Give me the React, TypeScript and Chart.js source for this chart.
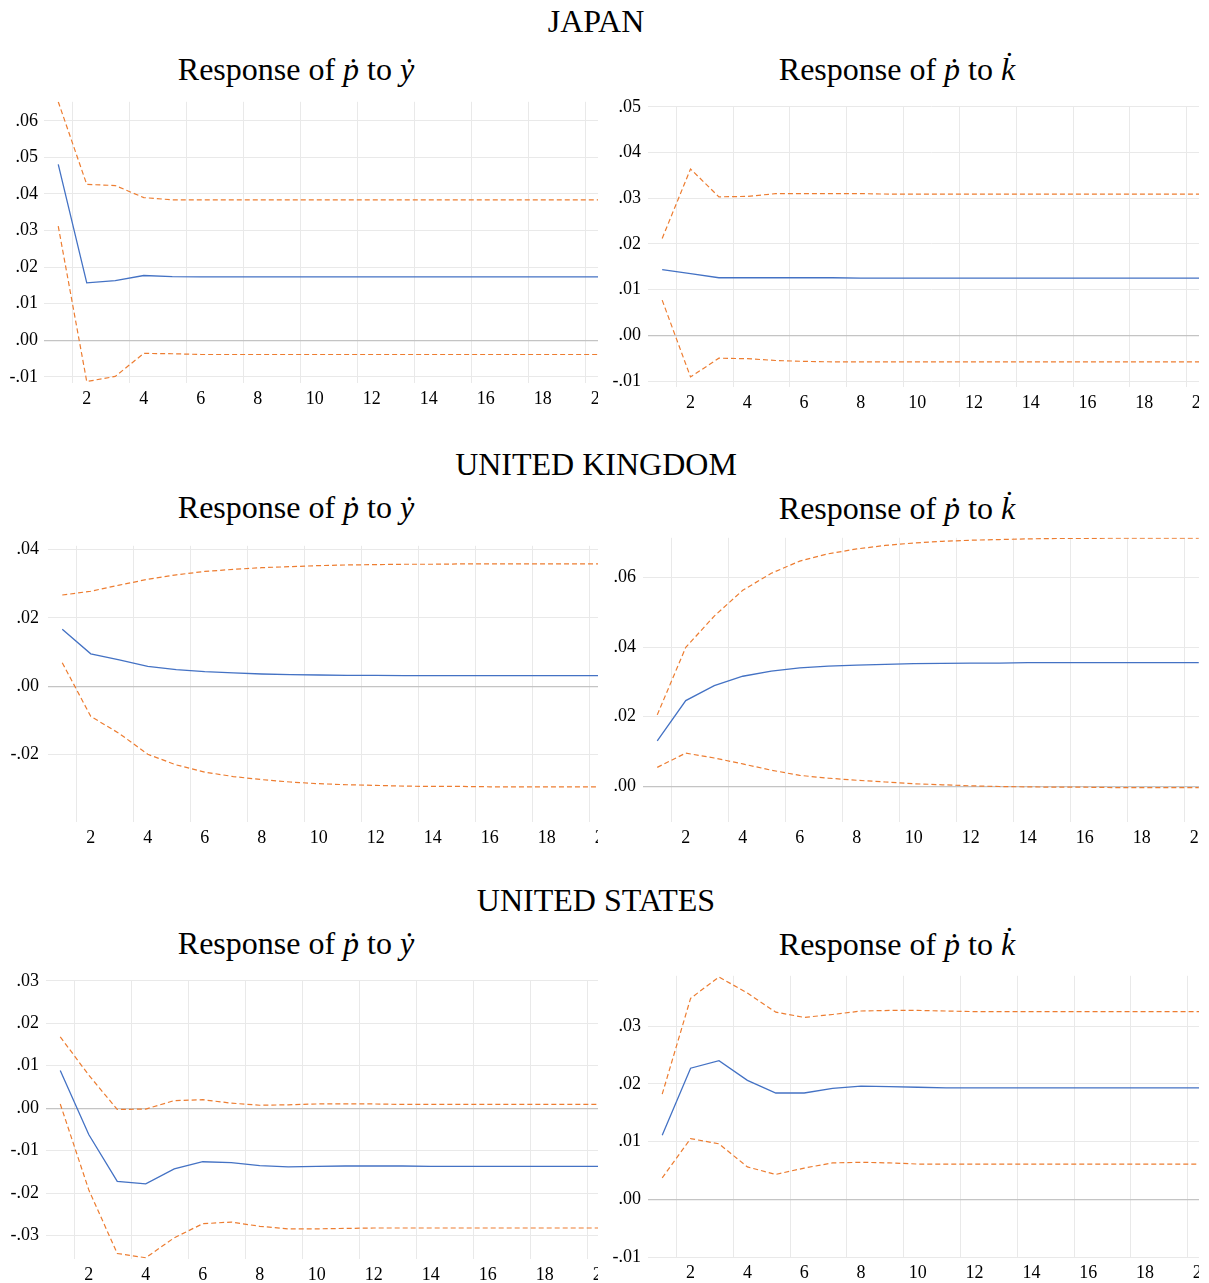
import React, { useEffect, useRef } from 'react';
import { Chart, registerables } from 'chart.js';

Chart.register(...registerables);

// ---------- data ----------
const PERIODS: string[] = ['1', '2', '3', '4', '5', '6', '7', '8', '9', '10', '11', '12', '13', '14', '15', '16', '17', '18', '19', '20'];

// Japan: response of p-dot to y-dot
const JP_Y_RESP = [0.0481, 0.0157, 0.0163, 0.0177, 0.0174, 0.0173, 0.0173, 0.0173, 0.0173, 0.0173, 0.0173, 0.0173, 0.0173, 0.0173, 0.0173, 0.0173, 0.0173, 0.0173, 0.0173, 0.0173];
const JP_Y_UPPER = [0.0652, 0.0426, 0.0423, 0.039, 0.0384, 0.0384, 0.0384, 0.0384, 0.0384, 0.0384, 0.0384, 0.0384, 0.0384, 0.0384, 0.0384, 0.0384, 0.0384, 0.0384, 0.0384, 0.0384];
const JP_Y_LOWER = [0.0312, -0.0113, -0.0099, -0.0036, -0.0037, -0.0039, -0.0039, -0.0039, -0.0039, -0.0039, -0.0039, -0.0039, -0.0039, -0.0039, -0.0039, -0.0039, -0.0039, -0.0039, -0.0039, -0.0039];
const JP_Y_TICKS = [-0.01, 0, 0.01, 0.02, 0.03, 0.04, 0.05, 0.06];

// Japan: response of p-dot to k-dot
const JP_K_RESP = [0.0144, 0.0135, 0.0126, 0.0126, 0.0126, 0.0126, 0.0126, 0.0125, 0.0125, 0.0125, 0.0125, 0.0125, 0.0125, 0.0125, 0.0125, 0.0125, 0.0125, 0.0125, 0.0125, 0.0125];
const JP_K_UPPER = [0.0212, 0.0364, 0.0303, 0.0304, 0.031, 0.031, 0.031, 0.031, 0.0309, 0.0309, 0.0309, 0.0309, 0.0309, 0.0309, 0.0309, 0.0309, 0.0309, 0.0309, 0.0309, 0.0309];
const JP_K_LOWER = [0.0077, -0.0091, -0.005, -0.0051, -0.0055, -0.0057, -0.0058, -0.0058, -0.0058, -0.0058, -0.0058, -0.0058, -0.0058, -0.0058, -0.0058, -0.0058, -0.0058, -0.0058, -0.0058, -0.0058];
const JP_K_TICKS = [-0.01, 0, 0.01, 0.02, 0.03, 0.04, 0.05];

// United Kingdom: response of p-dot to y-dot
const UK_Y_RESP = [0.0167, 0.0095, 0.0077, 0.0058, 0.0049, 0.0043, 0.0039, 0.0036, 0.0034, 0.0033, 0.0032, 0.0032, 0.0031, 0.0031, 0.0031, 0.0031, 0.0031, 0.0031, 0.0031, 0.0031];
const UK_Y_UPPER = [0.0267, 0.0278, 0.0296, 0.0313, 0.0326, 0.0336, 0.0342, 0.0347, 0.035, 0.0353, 0.0355, 0.0356, 0.0357, 0.0357, 0.0358, 0.0358, 0.0358, 0.0358, 0.0358, 0.0358];
const UK_Y_LOWER = [0.0069, -0.0088, -0.0138, -0.0199, -0.023, -0.0251, -0.0264, -0.0273, -0.028, -0.0285, -0.0288, -0.029, -0.0292, -0.0293, -0.0293, -0.0294, -0.0294, -0.0294, -0.0294, -0.0294];
const UK_Y_TICKS = [-0.02, 0, 0.02, 0.04];

// United Kingdom: response of p-dot to k-dot
const UK_K_RESP = [0.013, 0.0246, 0.0289, 0.0316, 0.0331, 0.034, 0.0345, 0.0348, 0.035, 0.0352, 0.0353, 0.0354, 0.0354, 0.0355, 0.0355, 0.0355, 0.0355, 0.0355, 0.0355, 0.0355];
const UK_K_UPPER = [0.0205, 0.0399, 0.0489, 0.0563, 0.0612, 0.0647, 0.0668, 0.0682, 0.0692, 0.0699, 0.0704, 0.0707, 0.0709, 0.0711, 0.0712, 0.0712, 0.0713, 0.0713, 0.0713, 0.0713];
const UK_K_LOWER = [0.0054, 0.0095, 0.0081, 0.0064, 0.0046, 0.0031, 0.0023, 0.0017, 0.0012, 0.0007, 0.0004, 0.0001, -0.0001, -0.0002, -0.0003, -0.0003, -0.0004, -0.0004, -0.0004, -0.0004];
const UK_K_TICKS = [0, 0.02, 0.04, 0.06];

// United States: response of p-dot to y-dot
const US_Y_RESP = [0.0089, -0.0062, -0.0172, -0.0178, -0.0143, -0.0126, -0.0128, -0.0135, -0.0138, -0.0137, -0.0136, -0.0136, -0.0136, -0.0137, -0.0137, -0.0137, -0.0137, -0.0137, -0.0137, -0.0137];
const US_Y_UPPER = [0.0168, 0.0078, -0.0003, -0.0002, 0.0018, 0.002, 0.0012, 0.0007, 0.0008, 0.001, 0.001, 0.001, 0.0009, 0.0009, 0.0009, 0.0009, 0.0009, 0.0009, 0.0009, 0.0009];
const US_Y_LOWER = [0.001, -0.0192, -0.0342, -0.0352, -0.0305, -0.0272, -0.0268, -0.0278, -0.0284, -0.0284, -0.0283, -0.0282, -0.0282, -0.0282, -0.0282, -0.0282, -0.0282, -0.0282, -0.0282, -0.0282];
const US_Y_TICKS = [-0.03, -0.02, -0.01, 0, 0.01, 0.02, 0.03];

// United States: response of p-dot to k-dot
const US_K_RESP = [0.0111, 0.0227, 0.024, 0.0206, 0.0184, 0.0184, 0.0192, 0.0196, 0.0195, 0.0194, 0.0193, 0.0193, 0.0193, 0.0193, 0.0193, 0.0193, 0.0193, 0.0193, 0.0193, 0.0193];
const US_K_UPPER = [0.0182, 0.0348, 0.0385, 0.0357, 0.0324, 0.0315, 0.032, 0.0326, 0.0327, 0.0327, 0.0326, 0.0325, 0.0325, 0.0325, 0.0325, 0.0325, 0.0325, 0.0325, 0.0325, 0.0325];
const US_K_LOWER = [0.0037, 0.0105, 0.0096, 0.0056, 0.0043, 0.0054, 0.0063, 0.0064, 0.0063, 0.0061, 0.0061, 0.0061, 0.0061, 0.0061, 0.0061, 0.0061, 0.0061, 0.0061, 0.0061, 0.0061];
const US_K_TICKS = [-0.01, 0, 0.01, 0.02, 0.03];

// ---------- styling ----------
const BLUE = '#4472c4';
const ORANGE = '#ed7d31';
const GRID = '#e9e9e9';
const ZERO = '#c4c4c4';
const FONT = '"Liberation Serif", "Times New Roman", "DejaVu Serif", serif';
const PAD_TOP = 14;
const X_AXIS_H = 30;

type PanelSpec = {
  resp: number[];
  upper: number[];
  lower: number[];
  ticks: number[];
  min: number;
  max: number;
  chartLeft: number;
  chartTop: number;
  plotW: number;
  plotH: number;
  cropRight: number;
  yAxisW: number;
  yPad: number;
};

const PANELS: PanelSpec[] = [
  { resp: JP_Y_RESP, upper: JP_Y_UPPER, lower: JP_Y_LOWER, ticks: JP_Y_TICKS, min: -0.0117, max: 0.0652, chartLeft: 44, chartTop: 99, plotW: 570, plotH: 284, cropRight: 598, yAxisW: 44, yPad: 6 },
  { resp: JP_K_RESP, upper: JP_K_UPPER, lower: JP_K_LOWER, ticks: JP_K_TICKS, min: -0.0113, max: 0.05, chartLeft: 648, chartTop: 103, plotW: 567, plotH: 284, cropRight: 1199, yAxisW: 48, yPad: 7 },
  { resp: UK_Y_RESP, upper: UK_Y_UPPER, lower: UK_Y_LOWER, ticks: UK_Y_TICKS, min: -0.0397, max: 0.0411, chartLeft: 48, chartTop: 540, plotW: 570, plotH: 282, cropRight: 598, yAxisW: 48, yPad: 9 },
  { resp: UK_K_RESP, upper: UK_K_UPPER, lower: UK_K_LOWER, ticks: UK_K_TICKS, min: -0.0103, max: 0.0714, chartLeft: 643, chartTop: 534, plotW: 570, plotH: 288, cropRight: 1199, yAxisW: 43, yPad: 7 },
  { resp: US_Y_RESP, upper: US_Y_UPPER, lower: US_Y_LOWER, ticks: US_Y_TICKS, min: -0.0355, max: 0.03, chartLeft: 46, chartTop: 977, plotW: 570, plotH: 282, cropRight: 598, yAxisW: 46, yPad: 7 },
  { resp: US_K_RESP, upper: US_K_UPPER, lower: US_K_LOWER, ticks: US_K_TICKS, min: -0.01, max: 0.0387, chartLeft: 648, chartTop: 972, plotW: 568, plotH: 285, cropRight: 1199, yAxisW: 48, yPad: 7 },
];

function fmt(v: number): string {
  const s = Number(v).toFixed(2);
  return s.replace(/^(-?)0\./, '$1.');
}

function buildConfig(p: PanelSpec): any {
  const tickFont = { family: FONT, size: 18 };
  return {
    type: 'line',
    data: {
      labels: PERIODS,
      datasets: [
        { data: p.upper, borderColor: ORANGE, borderWidth: 1.2, borderDash: [5, 3], pointRadius: 0, tension: 0, fill: false },
        { data: p.lower, borderColor: ORANGE, borderWidth: 1.2, borderDash: [5, 3], pointRadius: 0, tension: 0, fill: false },
        { data: p.resp, borderColor: BLUE, borderWidth: 1.3, pointRadius: 0, tension: 0, fill: false },
      ],
    },
    options: {
      animation: false,
      responsive: false,
      maintainAspectRatio: false,
      events: [],
      layout: { padding: { top: PAD_TOP, left: 0, right: 0, bottom: 0 } },
      plugins: { legend: { display: false }, tooltip: { enabled: false }, title: { display: false } },
      scales: {
        x: {
          type: 'category',
          offset: true,
          border: { display: false },
          grid: {
            offset: true,
            drawTicks: false,
            lineWidth: 1,
            color: (ctx: any) => (typeof ctx.index === 'number' && ctx.index % 2 === 1 ? GRID : 'rgba(0,0,0,0)'),
          },
          ticks: {
            autoSkip: false,
            maxRotation: 0,
            minRotation: 0,
            padding: 5,
            color: '#000',
            font: tickFont,
            callback: (_v: any, i: number) => (i % 2 === 1 ? PERIODS[i] : ''),
          },
          afterFit: (s: any) => {
            s.height = X_AXIS_H;
          },
        },
        y: {
          min: p.min,
          max: p.max,
          border: { display: false },
          grid: {
            drawTicks: false,
            lineWidth: (ctx: any) => (ctx.tick && ctx.tick.value === 0 ? 1.3 : 1),
            color: (ctx: any) => (ctx.tick && ctx.tick.value === 0 ? ZERO : GRID),
          },
          ticks: {
            padding: p.yPad,
            color: '#000',
            font: tickFont,
            callback: (v: any) => fmt(Number(v)),
          },
          afterBuildTicks: (s: any) => {
            s.ticks = p.ticks.map((v) => ({ value: v }));
          },
          afterFit: (s: any) => {
            s.width = p.yAxisW;
          },
        },
      },
    },
  };
}

function Panel({ p }: { p: PanelSpec }) {
  const ref = useRef<HTMLCanvasElement | null>(null);
  useEffect(() => {
    if (!ref.current) return;
    const chart = new Chart(ref.current, buildConfig(p));
    return () => chart.destroy();
  }, [p]);
  const canvasLeft = p.chartLeft - p.yAxisW;
  const canvasTop = p.chartTop - PAD_TOP;
  const w = p.yAxisW + p.plotW;
  const h = PAD_TOP + p.plotH + X_AXIS_H;
  return (
    <div style={{ position: 'absolute', left: canvasLeft, top: canvasTop, width: p.cropRight - canvasLeft, height: h, overflow: 'hidden' }}>
      <canvas ref={ref} width={w} height={h} style={{ width: w, height: h, display: 'block' }} />
    </div>
  );
}

const SECTION_TITLES = ['JAPAN', 'UNITED KINGDOM', 'UNITED STATES'];
const SECTION_Y = [22, 465, 901];
const SUB_Y_LEFT = [70, 508, 944];
const SUB_Y_RIGHT = [70, 509, 945];
const TITLE_SIZE = 32;

function CenteredText({ cx, cy, children }: { cx: number; cy: number; children: React.ReactNode }) {
  return (
    <div
      style={{
        position: 'absolute',
        left: cx - 300,
        top: cy - 17,
        width: 600,
        textAlign: 'center',
        fontFamily: FONT,
        fontSize: TITLE_SIZE,
        lineHeight: '32px',
        color: '#000',
        whiteSpace: 'nowrap',
      }}
    >
      {children}
    </div>
  );
}

function SubTitle({ cx, cy, kind }: { cx: number; cy: number; kind: 'y' | 'k' }) {
  return (
    <CenteredText cx={cx} cy={cy}>
      Response of <i>{'\u1E57'}</i> to <i>{kind === 'y' ? '\u1E8F' : 'k\u0307'}</i>
    </CenteredText>
  );
}

export default function App() {
  return (
    <div style={{ position: 'absolute', left: 0, top: 0, width: 1209, height: 1283, overflow: 'hidden', background: '#fff' }}>
      {SECTION_TITLES.map((t, i) => (
        <CenteredText key={t} cx={596} cy={SECTION_Y[i]}>
          {t}
        </CenteredText>
      ))}
      {SECTION_TITLES.map((t, i) => (
        <React.Fragment key={'s' + t}>
          <SubTitle cx={296} cy={SUB_Y_LEFT[i]} kind="y" />
          <SubTitle cx={897} cy={SUB_Y_RIGHT[i]} kind="k" />
        </React.Fragment>
      ))}
      {PANELS.map((p, i) => (
        <Panel key={i} p={p} />
      ))}
    </div>
  );
}
